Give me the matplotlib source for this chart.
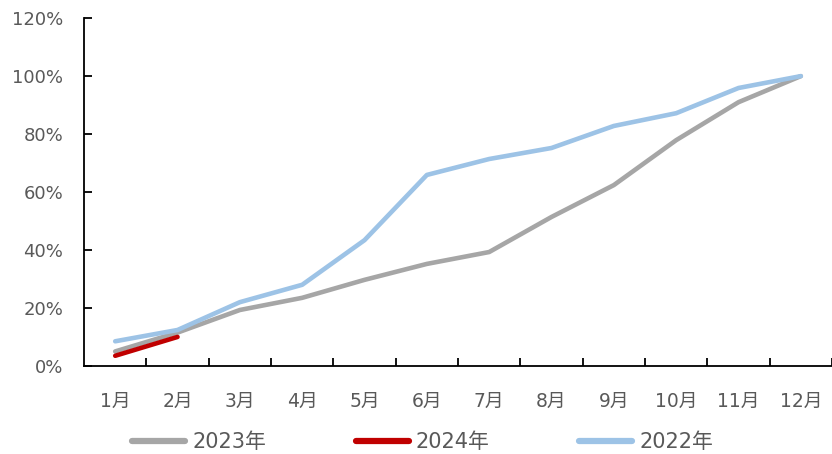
import matplotlib
matplotlib.use("Agg")
import matplotlib.pyplot as plt
from matplotlib.ticker import FuncFormatter, FixedLocator

plt.rcParams['font.family'] = ['DejaVu Sans', 'Noto Sans CJK SC']

months = ["1月", "2月", "3月", "4月", "5月", "6月", "7月", "8月", "9月", "10月", "11月", "12月"]
y2023 = [5.0, 11.5, 19.3, 23.5, 29.7, 35.2, 39.3, 51.4, 62.4, 77.9, 91.0, 100.0]
y2024 = [3.5, 10.0]
y2022 = [8.5, 12.4, 22.0, 28.0, 43.4, 65.9, 71.4, 75.2, 82.8, 87.2, 95.9, 100.0]

c2023 = "#A6A6A6"
c2024 = "#C00000"
c2022 = "#9DC3E6"
text_color = "#595959"

fig = plt.figure(figsize=(8.32, 4.54), dpi=100)
ax = fig.add_axes([0.101, 0.194, 0.899, 0.766])

x = list(range(len(months)))
ax.plot(x, y2023, color=c2023, lw=3.3, label="2023年", zorder=2, solid_capstyle='round')
ax.plot(x, y2022, color=c2022, lw=3.3, label="2022年", zorder=3, solid_capstyle='round')
ax.plot(x[:len(y2024)], y2024, color=c2024, lw=3.3, label="2024年", zorder=4, solid_capstyle='round')

ax.set_xlim(-0.5, len(months) - 0.5)
ax.set_ylim(0, 120)
ax.set_yticks(range(0, 121, 20))
ax.yaxis.set_major_formatter(FuncFormatter(lambda v, p: f"{int(v)}%"))

ax.set_xticks(x)
ax.set_xticklabels(months)
ax.xaxis.set_minor_locator(FixedLocator([i + 0.5 for i in range(len(months))]))
ax.tick_params(axis='x', which='major', length=0, pad=19, labelsize=13.5, labelcolor=text_color)
ax.tick_params(axis='x', which='minor', direction='in', length=6, width=1.3, color='black')
ax.tick_params(axis='y', which='major', direction='in', length=6, width=1.3, pad=15,
               labelsize=13, labelcolor=text_color)

for side in ('top', 'right'):
    ax.spines[side].set_visible(False)
for side in ('left', 'bottom'):
    ax.spines[side].set_linewidth(1.3)
    ax.spines[side].set_color('black')

handles, labels = ax.get_legend_handles_labels()
order = [0, 2, 1]
leg = fig.legend([handles[i] for i in order], [labels[i] for i in order],
                 loc='center', bbox_to_anchor=(0.508, 0.026), ncol=3, frameon=False,
                 fontsize=15, handlelength=2.55, handletextpad=0.34, columnspacing=4.3,
                 labelcolor=text_color, borderpad=0.0)
for line in leg.get_lines():
    line.set_linewidth(4.5)

fig.savefig("out.png", dpi=100)
